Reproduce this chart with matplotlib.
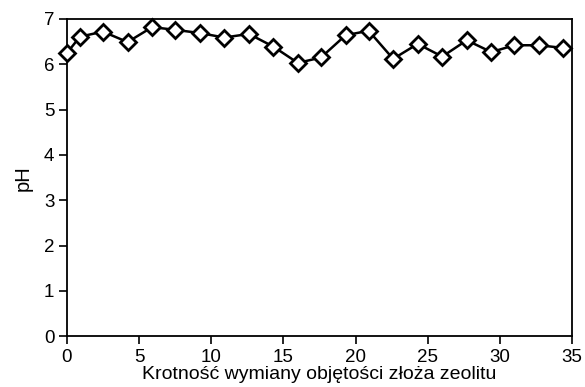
import matplotlib
matplotlib.use("Agg")
from matplotlib import pyplot as plt

# dane
krotnosc = [0, 0.9, 2.5, 4.2, 5.9, 7.5, 9.2, 10.9, 12.6, 14.3, 16.0,
            17.6, 19.3, 20.9, 22.6, 24.3, 26.0, 27.7, 29.4, 31.0, 32.7, 34.4]
ph = [6.25, 6.61, 6.72, 6.49, 6.82, 6.76, 6.69, 6.59, 6.67, 6.39, 6.03,
      6.15, 6.64, 6.74, 6.12, 6.45, 6.17, 6.53, 6.27, 6.42, 6.42, 6.36]
xticks = [0, 5, 10, 15, 20, 25, 30, 35]
yticks = [0, 1, 2, 3, 4, 5, 6, 7]

plt.rcParams['font.family'] = ['Liberation Sans', 'DejaVu Sans']

fig = plt.figure(figsize=(5.85, 3.87), dpi=100)
ax = fig.add_axes([0.1145, 0.131, 0.8635, 0.820])

ax.plot(krotnosc, ph, color='black', lw=1.8, marker='D', markersize=8.5,
        markerfacecolor='white', markeredgecolor='black', markeredgewidth=2,
        clip_on=False, zorder=5)

ax.set_xlim(0, 35)
ax.set_ylim(0, 7)
ax.set_xticks(xticks)
ax.set_yticks(yticks)
for s in ax.spines.values():
    s.set_linewidth(1.3)
ax.tick_params(direction='out', length=6, width=1.2, labelsize=13.5)
ax.tick_params(axis='x', pad=3)
ax.tick_params(axis='y', pad=3)

ax.set_xlabel('Krotność wymiany objętości złoża zeolitu', fontsize=14, labelpad=0)
ax.set_ylabel('pH', fontsize=14.5, labelpad=8)

fig.savefig('out.png', dpi=100)
